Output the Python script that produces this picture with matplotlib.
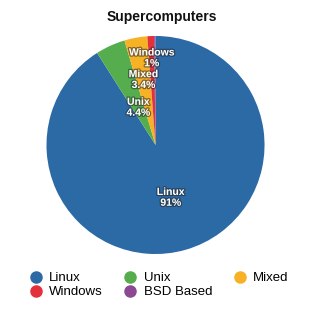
import numpy as np
import matplotlib
matplotlib.use("Agg")
from matplotlib import pyplot as plt
from matplotlib import patheffects as pe
from matplotlib.lines import Line2D

plt.rcParams['font.family'] = ['Liberation Sans', 'DejaVu Sans']

# data
names = ["Linux", "Unix", "Mixed", "Windows", "BSD Based"]
shares = [91, 4.4, 3.4, 1, 0.2]
share_text = ["91%", "4.4%", "3.4%", "1%", ""]
colors = ["#2c6aa6", "#55ad4e", "#f7b125", "#e2313b", "#8c4893"]
label_r = [0.5, 0.38, 0.61, 0.8, None]

fig = plt.figure(figsize=(3.24, 3.24), dpi=100)
fig.patch.set_facecolor("white")
ax = fig.add_axes([0.1435, 0.216, 0.673, 0.673])

wedges, _ = ax.pie(shares, colors=colors, startangle=90, counterclock=False,
                   radius=1, wedgeprops=dict(linewidth=0))
ax.set_xlim(-1, 1)
ax.set_ylim(-1, 1)
ax.set_aspect("equal")

shadow = [pe.withStroke(linewidth=1.8, foreground="#222222", alpha=0.55)]
for w, n, t, r in zip(wedges, names, share_text, label_r):
	if r is None:
		continue
	mid = np.deg2rad((w.theta1 + w.theta2) / 2)
	ax.text(r * np.cos(mid), r * np.sin(mid), n + "\n" + t, ha="center", va="center",
	        color="white", fontsize=7.5, fontweight="bold", linespacing=1.1,
	        path_effects=shadow)

fig.text(0.5, 0.947, "Supercomputers", ha="center", va="center",
         fontsize=10, fontweight="bold", color="#111111")

# legend, row-major order with 3 columns
order = [0, 3, 1, 4, 2]
handles = []
for i in order:
	handles.append(Line2D([], [], marker="o", linestyle="", markersize=8,
	                      markerfacecolor=colors[i], markeredgecolor=colors[i],
	                      label=names[i]))
fig.legend(handles=handles, ncol=3, loc="center", bbox_to_anchor=(0.49, 0.12),
           frameon=False, fontsize=9.5, handletextpad=0.5, columnspacing=1.6,
           labelspacing=0.15, handlelength=1.0)

plt.savefig("out.png", dpi=100)
